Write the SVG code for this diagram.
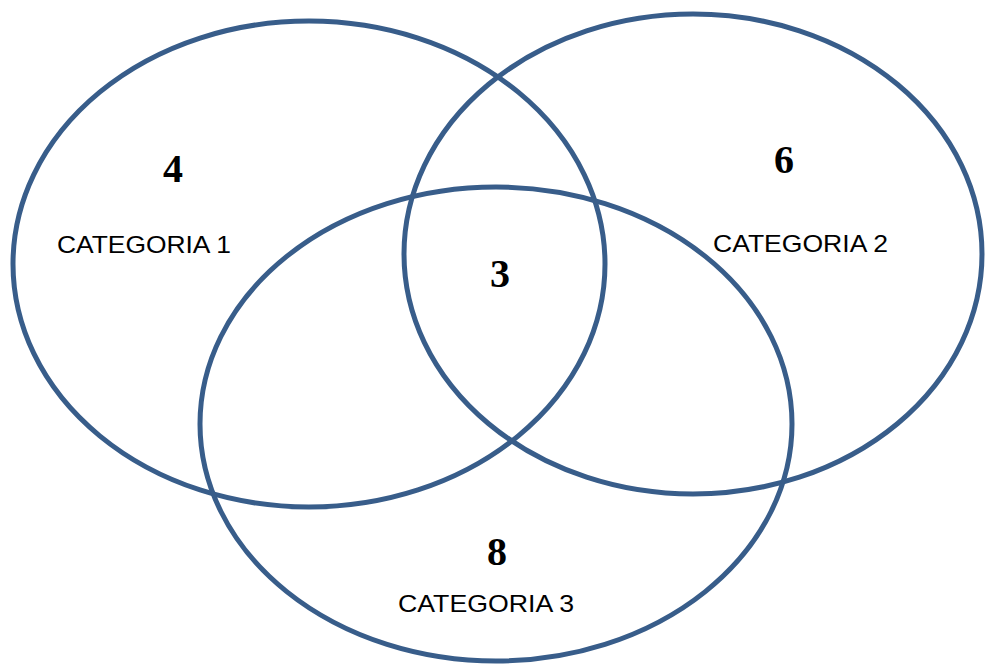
<svg xmlns="http://www.w3.org/2000/svg" width="987" height="666" viewBox="0 0 987 666">
<style>
.set{fill:none;stroke:#385D8A;stroke-width:5}
.num{font-family:"Liberation Serif",serif;font-weight:bold;font-size:40px;fill:#000;text-anchor:middle}
.lbl{font-family:"Liberation Sans",Arial,sans-serif;font-size:24px;fill:#000}
</style>
<rect width="987" height="666" fill="#fff"/>
<g id="set1"><ellipse class="set" cx="309" cy="264" rx="296" ry="243"/></g>
<g id="set2"><ellipse class="set" cx="693" cy="254" rx="289" ry="240"/></g>
<g id="set3"><ellipse class="set" cx="496" cy="424" rx="296" ry="237"/></g>
<g id="labels">
<text class="num" x="173" y="182">4</text>
<text class="lbl" x="57" y="253" textLength="174" lengthAdjust="spacingAndGlyphs">CATEGORIA 1</text>
<text class="num" x="784" y="173">6</text>
<text class="lbl" x="713" y="252" textLength="175" lengthAdjust="spacingAndGlyphs">CATEGORIA 2</text>
<text class="num" x="500" y="287">3</text>
<text class="num" x="497" y="565">8</text>
<text class="lbl" x="398" y="612" textLength="176" lengthAdjust="spacingAndGlyphs">CATEGORIA 3</text>
</g>
</svg>
